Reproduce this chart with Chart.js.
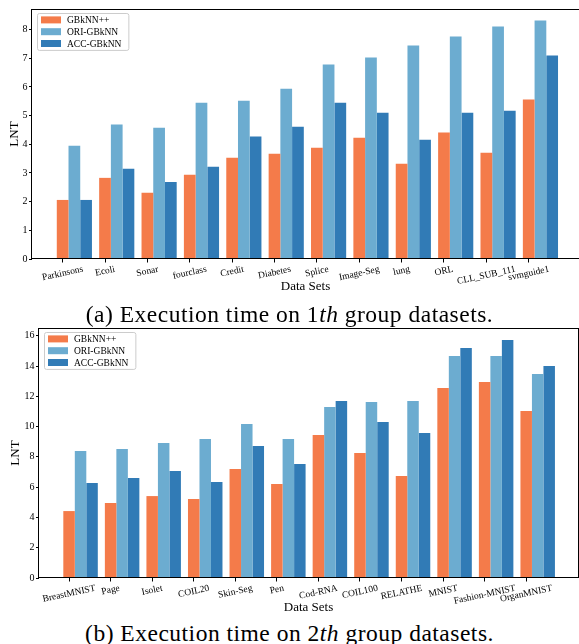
<!DOCTYPE html>
<html>
<head>
<meta charset="utf-8">
<script src="https://cdn.jsdelivr.net/npm/chart.js@4.4.1/dist/chart.umd.min.js"></script>
<style>
  html { overflow: hidden; }
  body { margin: 0; background: #fff; width: 579px; height: 644px; position: relative; }
  canvas { position: absolute; left: 0; }
  #chartA { top: 0; }
  #chartB { top: 320px; }
  .caption {
    position: absolute; left: 0; width: 579px; text-align: center;
    font-family: 'Liberation Serif', 'DejaVu Serif', serif; font-size: 23.5px; line-height: 24px;
    letter-spacing: 0.5px; color: #000; white-space: nowrap;
  }
  #capA { top: 302px; }
  #capB { top: 621px; }
</style>
</head>
<body>
<canvas id="chartA" width="579" height="300"></canvas>
<canvas id="chartB" width="579" height="300"></canvas>
<div class="caption" id="capA">(a) Execution time on 1<i>th</i> group datasets.</div>
<div class="caption" id="capB">(b) Execution time on 2<i>th</i> group datasets.</div>
<script>
// Valors LNT llegits de la figura
const seriesNames = ['GBkNN++', 'ORI-GBkNN', 'ACC-GBkNN'];
const seriesColors = ['#F47B4A', '#6CACD0', '#317BB6'];

const labelsA = ['Parkinsons', 'Ecoli', 'Sonar', 'fourclass', 'Credit', 'Diabetes', 'Splice', 'Image-Seg', 'lung', 'ORL', 'CLL_SUB_111', 'svmguide1'];
const gbknnA = [2.06, 2.83, 2.31, 2.94, 3.53, 3.67, 3.88, 4.23, 3.32, 4.41, 3.71, 5.56];
const oriA   = [3.95, 4.69, 4.58, 5.45, 5.52, 5.94, 6.78, 7.03, 7.45, 7.76, 8.11, 8.32];
const accA   = [2.06, 3.15, 2.69, 3.22, 4.27, 4.61, 5.45, 5.10, 4.16, 5.10, 5.17, 7.10];
const yTicksA = [0, 1, 2, 3, 4, 5, 6, 7, 8];

const labelsB = ['BreastMNIST', 'Page', 'Isolet', 'COIL20', 'Skin-Seg', 'Pen', 'Cod-RNA', 'COIL100', 'RELATHE', 'MNIST', 'Fashion-MNIST', 'OrganMNIST'];
const gbknnB = [4.42, 4.95, 5.41, 5.22, 7.20, 6.21, 9.44, 8.25, 6.74, 12.55, 12.94, 11.03];
const oriB   = [8.39, 8.52, 8.91, 9.18, 10.17, 9.18, 11.29, 11.62, 11.69, 14.66, 14.66, 13.47];
const accB   = [6.27, 6.60, 7.07, 6.34, 8.72, 7.53, 11.69, 10.30, 9.58, 15.19, 15.72, 14.00];
const yTicksB = [0, 2, 4, 6, 8, 10, 12, 14, 16];

const SERIF = "'Liberation Serif', 'DejaVu Serif', serif";
const CAT_PCT = 0.83;

// Marc complet al voltant de l'àrea del gràfic
const framePlugin = {
  id: 'frame',
  afterDatasetsDraw(chart) {
    const ca = chart.chartArea, ctx = chart.ctx;
    ctx.save();
    ctx.strokeStyle = '#000';
    ctx.lineWidth = 1;
    ctx.strokeRect(Math.round(ca.left) - 0.5, Math.round(ca.top) + 0.5,
      Math.round(ca.right - ca.left) + 1, Math.round(ca.bottom - ca.top) - 1);
    ctx.restore();
  }
};

// Etiquetes de l'eix X, girades i centrades sota cada marca
const xLabelPlugin = {
  id: 'xlabels',
  afterDraw(chart, args, opts) {
    const sc = chart.scales.x, ctx = chart.ctx;
    const ang = opts.rotation * Math.PI / 180;
    ctx.save();
    ctx.font = opts.size + 'px ' + SERIF;
    ctx.fillStyle = '#000';
    ctx.textAlign = 'center';
    ctx.textBaseline = 'middle';
    sc.ticks.forEach((t, i) => {
      const txt = opts.labels[i];
      if (!txt) return;
      const w = ctx.measureText(txt).width;
      const h = w * Math.sin(ang) + opts.size * Math.cos(ang);
      const x = sc.getPixelForValue(t.value);
      const y = sc.top + opts.pad + h / 2;
      ctx.save();
      ctx.translate(x, y);
      ctx.rotate(-ang);
      ctx.fillText(txt, 0, 0);
      ctx.restore();
    });
    ctx.restore();
  }
};

// Llegenda amb caixa, a dalt a l'esquerra de l'àrea
const boxLegend = {
  id: 'boxLegend',
  afterDraw(chart, args, opts) {
    const ctx = chart.ctx, ca = chart.chartArea;
    const items = chart.data.datasets;
    ctx.save();
    ctx.font = opts.size + 'px ' + SERIF;
    const tw = Math.max(...items.map(d => ctx.measureText(d.label).width));
    const x0 = ca.left + 5, y0 = ca.top + 4;
    const w = 30 + tw + 7, h = items.length * opts.rowH + 1.5;
    ctx.fillStyle = 'rgba(255,255,255,0.8)';
    ctx.strokeStyle = '#cccccc';
    ctx.lineWidth = 1;
    ctx.beginPath();
    ctx.roundRect(x0 + 0.5, y0 + 0.5, w, h, 2);
    ctx.fill();
    ctx.stroke();
    items.forEach((d, i) => {
      const cy = y0 + 1 + opts.rowH * (i + 0.5);
      ctx.fillStyle = d.backgroundColor;
      ctx.fillRect(x0 + 4, cy - 3.5, 20, 7);
      ctx.fillStyle = '#000';
      ctx.textBaseline = 'middle';
      ctx.fillText(d.label, x0 + 30, cy + 0.5);
    });
    ctx.restore();
  }
};

function makeChart(id, labels, values, yTicks, cfg) {
  const datasets = values.map((vals, k) => ({
    label: seriesNames[k],
    data: vals.map((v, i) => ({ x: i + 1, y: v })),
    backgroundColor: seriesColors[k],
    borderWidth: 0,
    categoryPercentage: CAT_PCT,
    barPercentage: 1.0
  }));
  // les marques de l'eix X van al centre de la primera barra del grup
  const tickShift = CAT_PCT / values.length;

  return new Chart(document.getElementById(id), {
    type: 'bar',
    data: { datasets },
    plugins: [framePlugin, xLabelPlugin, boxLegend],
    options: {
      responsive: false,
      devicePixelRatio: 1,
      animation: false,
      layout: { padding: { left: 0, right: cfg.right, top: cfg.top, bottom: 0 } },
      plugins: {
        legend: { display: false },
        tooltip: { enabled: false },
        xlabels: { labels, rotation: 12, pad: 5.5, size: 9.5 },
        boxLegend: { size: 9.5, rowH: 11.8 }
      },
      scales: {
        x: {
          type: 'linear',
          offset: false,
          min: 0,
          max: cfg.xMax,
          afterBuildTicks: sc => { sc.ticks = labels.map((_, i) => ({ value: i + 1 - tickShift })); },
          afterFit: sc => { sc.height = cfg.xHeight; },
          ticks: { display: false },
          grid: { display: true, offset: false, drawOnChartArea: false, drawTicks: true, tickLength: 3.5, tickColor: '#000', tickWidth: 1 },
          border: { display: false },
          title: {
            display: true, text: 'Data Sets', color: '#000',
            font: { family: SERIF, size: 13 }, padding: { top: 0, bottom: cfg.xTitlePad }
          }
        },
        y: {
          min: 0,
          max: cfg.yMax,
          afterBuildTicks: sc => { sc.ticks = yTicks.map(v => ({ value: v })); },
          afterFit: sc => { sc.width = cfg.yWidth; },
          ticks: { color: '#000', padding: 1.5, font: { family: SERIF, size: 10 } },
          grid: { display: true, drawOnChartArea: false, drawTicks: true, tickLength: 3, tickColor: '#000', tickWidth: 1 },
          border: { display: false },
          title: {
            display: true, text: 'LNT', color: '#000',
            font: { family: SERIF, size: 13 }, padding: { top: cfg.yTitlePad, bottom: 0 }
          }
        }
      }
    }
  });
}

// (a): el marc dret queda fora de la imatge
makeChart('chartA', labelsA, [gbknnA, oriA, accA], yTicksA,
  { top: 9, right: 0, xMax: 12.91, yMax: 8.72, xHeight: 41, yWidth: 32, xTitlePad: 5.2, yTitlePad: 7 });
makeChart('chartB', labelsB, [gbknnB, oriB, accB], yTicksB,
  { top: 8, right: 1, xMax: 12.97, yMax: 16.51, xHeight: 42, yWidth: 39, xTitlePad: 4.2, yTitlePad: 7.7 });
</script>
</body>
</html>
